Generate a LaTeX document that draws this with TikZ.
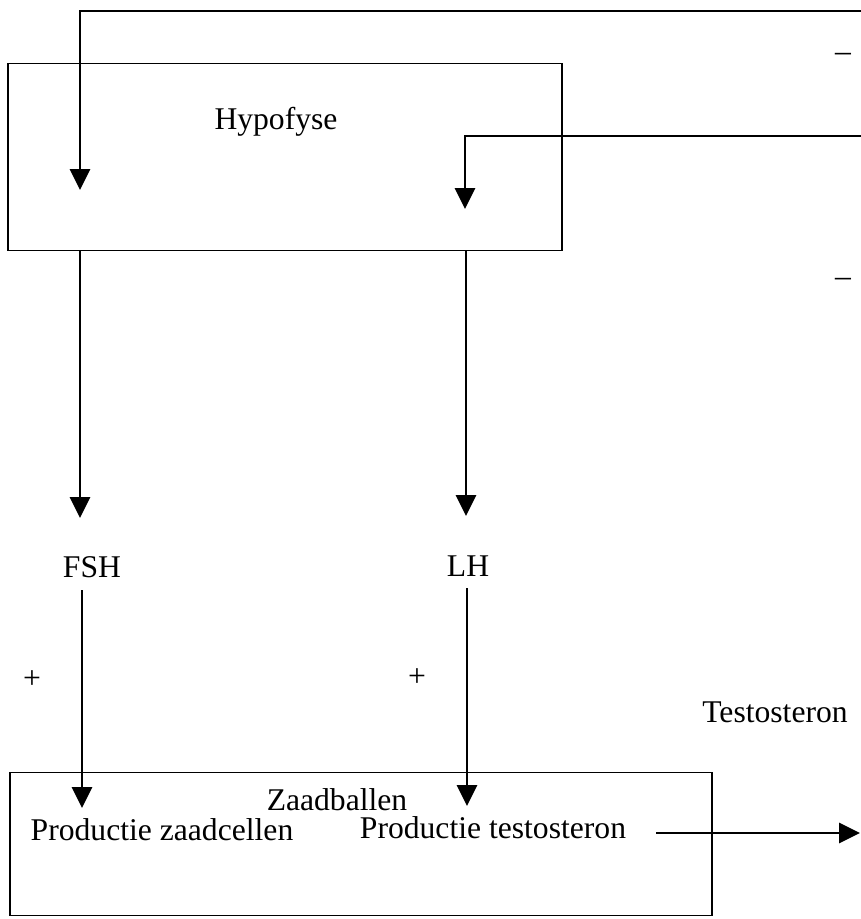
\documentclass[tikz,border=0pt]{standalone}
\usepackage{fontspec}
\setmainfont{Liberation Serif}
\usetikzlibrary{arrows.meta}
\begin{document}
\begin{tikzpicture}[x=0.02cm, y=-0.02cm, font=\fontsize{18}{22}\selectfont]
        \tikzstyle{organ}=[draw, rectangle, line width=1.1pt, inner sep=0pt];
        \tikzstyle{flow}=[line width=1.6pt, -{Triangle[length=0.42cm, width=0.4cm]}];
        \tikzstyle{label}=[inner sep=0pt];

        \useasboundingbox (0,0) rectangle (861,919);

        \node[organ, minimum width=11.1cm, minimum height=3.74cm] (hyp) at (285,157) {};
        \node[label] (hyptext) at (276,122) {Hypofyse};
        \node[organ, minimum width=14.04cm, minimum height=2.86cm] (zaad) at (361,844) {};
        \node[label] (zaadtext) at (337,800) {Zaadballen};
        \node[label] (zcel) at (162,830) {Productie zaadcellen};
        \node[label] (ztest) at (493,828) {Productie testosteron};

        \node[label] (fsh) at (92,567) {FSH};
        \node[label] (lh) at (468,566) {LH};
        \node[label] (plus1) at (32,680) {+};
        \node[label] (plus2) at (417,678) {+};
        \node[label] (testo) at (775,712) {Testosteron};
        \node[label] (min1) at (843,57) {--};
        \node[label] (min2) at (843,282) {--};

        % feedback lines coming in from the right
        \coordinate (fb1) at (861,11);
        \coordinate (fb2) at (861,136);
        \coordinate (fshin) at (80,190);
        \coordinate (lhin) at (465,209);
        \draw[flow] (fb1) -| (fshin);
        \draw[flow] (fb2) -| (lhin);

        % hypofyse to hormones
        \coordinate (fshout) at (80,251);
        \coordinate (fshtip) at (80,518);
        \coordinate (lhout) at (466,251);
        \coordinate (lhtip) at (466,516);
        \draw[flow] (fshout) -- (fshtip);
        \draw[flow] (lhout) -- (lhtip);

        % hormones to zaadballen
        \coordinate (fshlow) at (82,590);
        \coordinate (zcelin) at (82,808);
        \coordinate (lhlow) at (467,588);
        \coordinate (ztestin) at (467,806);
        \draw[flow] (fshlow) -- (zcelin);
        \draw[flow] (lhlow) -- (ztestin);

        \coordinate (testout) at (860,833);
        \draw[flow] (ztest.east |- testout) ++(30,0) -- (testout);
    \end{tikzpicture}
\end{document}
